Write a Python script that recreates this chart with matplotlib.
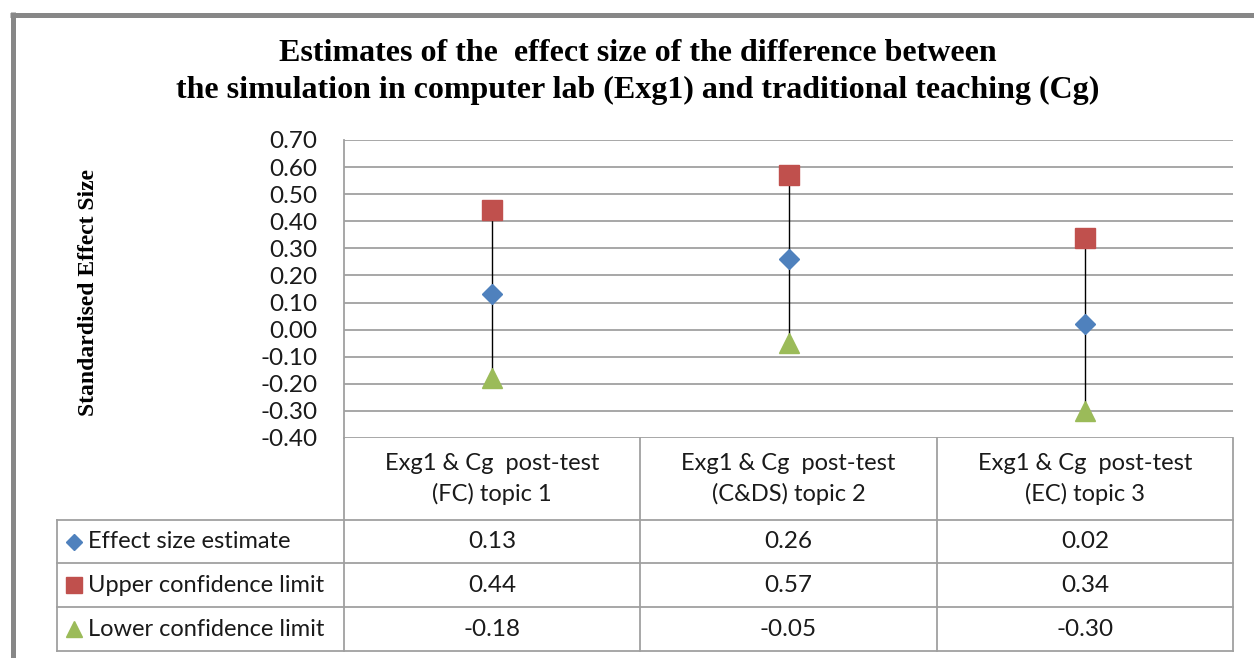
import matplotlib
matplotlib.use("Agg")
import matplotlib.pyplot as plt
from matplotlib.lines import Line2D
from matplotlib.transforms import blended_transform_factory

categories = ["Exg1 & Cg  post-test\n(FC) topic 1",
              "Exg1 & Cg  post-test\n(C&DS) topic 2",
              "Exg1 & Cg  post-test\n(EC) topic 3"]
effect = [0.13, 0.26, 0.02]
upper = [0.44, 0.57, 0.34]
lower = [-0.18, -0.05, -0.30]
series_names = ["Effect size estimate", "Upper confidence limit", "Lower confidence limit"]
yticks = [0.70, 0.60, 0.50, 0.40, 0.30, 0.20, 0.10, 0.00, -0.10, -0.20, -0.30, -0.40]
title = "Estimates of the  effect size of the difference between\nthe simulation in computer lab (Exg1) and traditional teaching (Cg)"
ylabel = "Standardised Effect Size"

W, H = 1254, 658
fig = plt.figure(figsize=(W / 100, H / 100), dpi=100)
fig.patch.set_facecolor("white")

def fx(px):
    return px / W

def fy(py):
    return 1 - py / H

SANS = ["Lato", "DejaVu Sans"]
SERIF = ["Liberation Serif", "DejaVu Serif"]
GRID = "#a0a0a0"
TXT = "#1a1a1a"
colors = ["#4f81bd", "#c0504d", "#9bbb59"]

ax_left, ax_right, ax_top, ax_bottom = 344, 1233, 140, 438
ax = fig.add_axes([fx(ax_left), fy(ax_bottom), fx(ax_right - ax_left), (ax_bottom - ax_top) / H])
ax.set_xlim(-0.5, len(categories) - 0.5)
ax.set_ylim(min(yticks), max(yticks))
ax.set_yticks(yticks)
ax.set_yticklabels([f"{v:.2f}" for v in yticks], fontfamily=SANS, fontsize=17.5, color=TXT)
ax.set_xticks([])
ax.tick_params(axis="y", length=0, pad=19)
for s in ["top", "right", "bottom"]:
    ax.spines[s].set_visible(False)
ax.spines["left"].set_color(GRID)
ax.spines["left"].set_linewidth(1.3)
ax.yaxis.grid(True, color=GRID, linewidth=1.3)
ax.set_axisbelow(True)

x = list(range(len(categories)))
ax.vlines(x, lower, upper, color="black", linewidth=1.0, zorder=2)
ax.plot(x, effect, linestyle="none", marker="D", markersize=10.3, color=colors[0], zorder=3, clip_on=False)
ax.plot(x, upper, linestyle="none", marker="s", markersize=14.2, color=colors[1], zorder=3, clip_on=False)
ax.plot(x, lower, linestyle="none", marker="^", markersize=14.2, color=colors[2], zorder=3, clip_on=False)

# title and y label
fig.text(fx(638), fy(72), title, ha="center", va="center", fontfamily=SERIF,
         fontweight="bold", fontsize=23, linespacing=1.32, color="black")
fig.text(fx(88), fy(292), ylabel, ha="center", va="center", rotation=90,
         fontfamily=SERIF, fontweight="bold", fontsize=17, color="black")

# data table
bt = blended_transform_factory(ax.transData, fig.transFigure)
tab_left = 57
header_bottom = 520
row_edges = [520, 563, 607, 651]
lw = 1.3
for yy in row_edges:
    fig.add_artist(Line2D([fx(tab_left), fx(ax_right)], [fy(yy), fy(yy)], color=GRID, linewidth=lw))
fig.add_artist(Line2D([fx(tab_left), fx(tab_left)], [fy(row_edges[0]), fy(row_edges[-1])], color=GRID, linewidth=lw))
for b in [i - 0.5 for i in range(len(categories) + 1)]:
    fig.add_artist(Line2D([b, b], [fy(ax_bottom), fy(row_edges[-1])], color=GRID, linewidth=lw, transform=bt))

for i, c in enumerate(categories):
    fig.text(i, fy((ax_bottom + header_bottom) / 2), c, transform=bt, ha="center", va="center",
             fontfamily=SANS, fontsize=17, color=TXT, linespacing=1.45)

markers = ["D", "s", "^"]
msizes = [8.5, 12, 12]
values = [effect, upper, lower]
for r in range(3):
    yc = fy((row_edges[r] + row_edges[r + 1]) / 2)
    fig.add_artist(Line2D([fx(74)], [yc], marker=markers[r], markersize=msizes[r], color=colors[r], linestyle="none"))
    fig.text(fx(88), yc, series_names[r], ha="left", va="center", fontfamily=SANS, fontsize=17, color=TXT)
    for i, v in enumerate(values[r]):
        fig.text(i, yc, f"{v:.2f}", transform=bt, ha="center", va="center",
                 fontfamily=SANS, fontsize=17.5, color=TXT)

# outer frame (chart border)
FR = "#878787"
fig.add_artist(Line2D([fx(10), fx(W + 5)], [fy(14.5), fy(14.5)], color=FR, linewidth=3.6, solid_capstyle="butt"))
fig.add_artist(Line2D([fx(12.5), fx(12.5)], [fy(12), fy(H + 5)], color=FR, linewidth=3.6, solid_capstyle="butt"))

fig.savefig("out.png", dpi=100)
